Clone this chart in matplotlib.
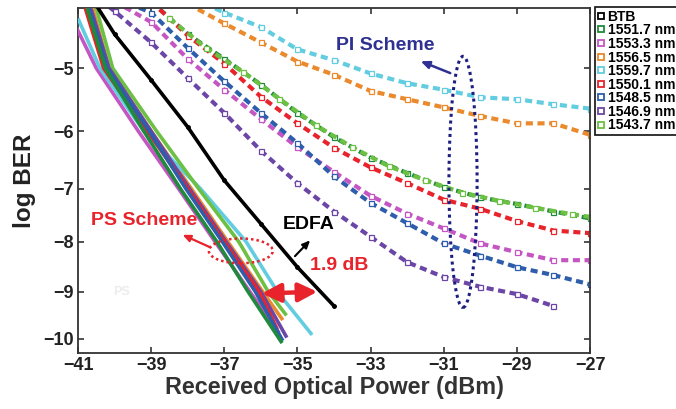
import math
import numpy as np
import matplotlib
matplotlib.use("Agg")
import matplotlib.pyplot as plt
from matplotlib.lines import Line2D
from matplotlib.patches import Ellipse, FancyArrowPatch

plt.rcParams['font.family'] = ['Liberation Sans', 'DejaVu Sans']
plt.rcParams['font.weight'] = 'bold'
plt.rcParams['axes.labelweight'] = 'bold'

# ---- data (x = received power in dBm, y = log10 BER) ----
labels = ['BTB', '1551.7 nm', '1553.3 nm', '1556.5 nm', '1559.7 nm',
          '1550.1 nm', '1548.5 nm', '1546.9 nm', '1543.7 nm']
colors = ['black', '#1f8a3c', '#c456c4', '#ea8a2c', '#62cde0',
          '#e8232b', '#2d5dab', '#6c46a6', '#6cc043']

btb_x = [-40.5, -40.0, -39.0, -38.0, -37.0, -36.0, -35.0, -34.0]
btb_y = [-4.1, -4.5, -5.18, -5.93, -6.85, -7.65, -8.5, -9.3]

# PS scheme (solid), one per wavelength
ps_x = {
    '1551.7 nm': [-40.75, -40.25, -39.2, -38.2, -37.2, -36.35, -35.42],
    '1553.3 nm': [-41.05, -40.5, -39.35, -38.25, -37.25, -36.3, -35.5],
    '1556.5 nm': [-40.6, -40.15, -39.0, -37.9, -36.9, -35.95, -35.4],
    '1559.7 nm': [-41.0, -40.4, -39.2, -37.65, -36.4, -35.55, -34.6],
    '1550.1 nm': [-40.8, -40.3, -39.1, -38.0, -37.0, -36.05, -35.55],
    '1548.5 nm': [-40.7, -40.2, -39.05, -38.05, -37.05, -36.15, -35.4],
    '1546.9 nm': [-40.65, -40.15, -39.0, -37.95, -36.95, -36.0, -35.29],
    '1543.7 nm': [-40.5, -40.05, -38.85, -37.7, -36.6, -35.8, -35.3],
}
ps_y = {
    '1551.7 nm': [-4.14, -5, -6, -7, -8, -9, -10.1],
    '1553.3 nm': [-4.4, -5, -6, -7, -8, -9, -9.88],
    '1556.5 nm': [-4.14, -5, -6, -7, -8, -9, -9.6],
    '1559.7 nm': [-4.28, -5, -6, -7, -8, -9, -9.92],
    '1550.1 nm': [-4.14, -5, -6, -7, -8, -9, -9.8],
    '1548.5 nm': [-4.14, -5, -6, -7, -8, -9, -10.05],
    '1546.9 nm': [-4.14, -5, -6, -7, -8, -9, -9.98],
    '1543.7 nm': [-4.14, -5, -6, -7, -8, -9, -9.5],
}
ps_order = ['1556.5 nm', '1553.3 nm', '1559.7 nm', '1543.7 nm', '1546.9 nm',
            '1550.1 nm', '1548.5 nm', '1551.7 nm']

# PI scheme (dashed with markers)
pi_x = {
    '1551.7 nm': [-39, -38, -37, -36, -35, -34, -33, -32, -31, -30, -29, -28, -27],
    '1553.3 nm': [-40, -39, -38, -37, -36, -35, -34, -33, -32, -31, -30, -29, -28, -27],
    '1556.5 nm': [-38, -37, -36, -35, -34, -33, -32, -31, -30, -29, -28, -27],
    '1559.7 nm': [-38, -37, -36, -35, -34, -33, -32, -31, -30, -29, -28, -27],
    '1550.1 nm': [-39, -38, -37, -36, -35, -34, -33, -32, -31, -30, -29, -28, -27],
    '1548.5 nm': [-40, -39, -38, -37, -36, -35, -34, -33, -32, -31, -30, -29, -28, -27],
    '1546.9 nm': [-41, -40, -39, -38, -37, -36, -35, -34, -33, -32, -31, -30, -29, -28],
    '1543.7 nm': [-38.5, -37.5, -36.5, -35.5, -34.5, -33.5, -32.5, -31.5, -30.5,
                  -29.5, -28.5, -27.5, -27],
}
pi_y = {
    '1551.7 nm': [-4.05, -4.5, -4.86, -5.25, -5.7, -6.1, -6.45, -6.72, -6.97,
                  -7.16, -7.28, -7.42, -7.55],
    '1553.3 nm': [-4.05, -4.33, -4.86, -5.33, -5.8, -6.27, -6.7, -7.13, -7.46,
                  -7.74, -8.03, -8.2, -8.36, -8.36],
    '1556.5 nm': [-4.08, -4.35, -4.62, -4.9, -5.1, -5.35, -5.48, -5.61, -5.75,
                  -5.87, -5.87, -6.06],
    '1559.7 nm': [-3.98, -4.2, -4.4, -4.72, -4.88, -5.08, -5.23, -5.33, -5.45,
                  -5.48, -5.56, -5.63],
    '1550.1 nm': [-4.05, -4.52, -4.93, -5.44, -5.87, -6.28, -6.62, -6.9, -7.2,
                  -7.37, -7.6, -7.78, -7.83],
    '1548.5 nm': [-4.0, -4.2, -4.7, -5.2, -5.7, -6.2, -6.78, -7.26, -7.64,
                  -8.03, -8.27, -8.5, -8.66, -8.85],
    '1546.9 nm': [-3.8, -4.18, -4.62, -5.15, -5.7, -6.33, -6.9, -7.42, -7.9,
                  -8.4, -8.7, -8.9, -9.05, -9.3],
    '1543.7 nm': [-4.28, -4.7, -5.05, -5.47, -5.9, -6.27, -6.6, -6.85, -7.07,
                  -7.22, -7.35, -7.47, -7.52],
}

x_ticks = [-41, -39, -37, -35, -33, -31, -29, -27]
y_ticks = [-10, -9, -8, -7, -6, -5]


# ---- Q-factor style axis: linear in Q, labelled in log BER ----
_erfc = np.vectorize(math.erfc, otypes=[float])


def ber_of_q(q):
    return 0.5 * _erfc(q / np.sqrt(2))


def to_q(v):
    v = np.asarray(v, float)
    nan = np.isnan(v)
    vc = np.clip(np.where(nan, -5.0, v), -290, -1e-9)
    lo = np.full(vc.shape, -8.0)
    hi = np.full(vc.shape, 36.0)
    for _ in range(50):
        mid = 0.5 * (lo + hi)
        with np.errstate(divide='ignore'):
            above = np.log10(ber_of_q(mid)) > vc
        lo = np.where(above, mid, lo)
        hi = np.where(above, hi, mid)
    return np.where(nan, np.nan, -0.5 * (lo + hi))


def from_q(y):
    q = -np.asarray(y, float)
    with np.errstate(divide='ignore'):
        return np.log10(ber_of_q(q))


W, H = 676, 409
fig = plt.figure(figsize=(W / 100, H / 100), dpi=100)
ax = fig.add_axes([78 / W, 1 - 353 / H, 512 / W, 345 / H])
ax.set_yscale('function', functions=(to_q, from_q))

cmap = dict(zip(labels, colors))

ax.plot(btb_x, btb_y, color='black', lw=2.6, marker='o', ms=2.5, zorder=4)

for lab in ps_order:
    ax.plot(ps_x[lab], ps_y[lab], color=cmap[lab], lw=2.6,
            solid_capstyle='butt', zorder=3)

for lab in labels[1:]:
    c = cmap[lab]
    ax.plot(pi_x[lab], pi_y[lab], color=c, lw=3.0, dashes=(1.7, 1.1),
            marker='s', ms=3.6, mfc='white', mec=c, mew=0.9, zorder=2)

ax.set_xlim(-41, -27)
ax.set_ylim(-10.32, -4.137)
ax.set_xticks(x_ticks)
ax.set_xticklabels([f'\u2212{abs(t)}' for t in x_ticks])
ax.set_yticks(y_ticks)
ax.set_yticklabels([f'\u2212{abs(t)}' for t in y_ticks])
ax.minorticks_off()
ax.tick_params(direction='in', top=True, right=True, length=4, width=1.1,
               labelsize=13, colors='#222222', pad=3)
for s in ax.spines.values():
    s.set_linewidth(1.3)
    s.set_color('#333333')

ax.set_xlabel('Received Optical Power (dBm)', fontsize=16.8, color='#333333',
              labelpad=1)
ax.set_ylabel('log BER', fontsize=17.5, color='#222222', labelpad=5)

# ---- annotations ----
ax.text(-32.6, -4.66, 'PI Scheme', color='#2e3192', fontsize=14,
        ha='center', va='center')
ax.annotate('', xy=(-31.7, -4.88), xytext=(-30.75, -5.09),
            arrowprops=dict(arrowstyle='-|>,head_length=0.5,head_width=0.22',
                            color='#2e3192', lw=1.8))
ax.add_patch(Ellipse((0.752, 0.496), 0.055, 0.728, transform=ax.transAxes,
                     fill=False, ls=(0, (1, 1.2)), lw=2.2, ec='#1c1f80', zorder=5))

ax.text(-39.2, -7.59, 'PS Scheme', color='#e8232b', fontsize=14,
        ha='center', va='center')
ax.annotate('', xy=(-38.21, -7.84), xytext=(-37.31, -8.13),
            arrowprops=dict(arrowstyle='-|>,head_length=0.45,head_width=0.2',
                            color='#e8232b', lw=1.6))
ax.add_patch(Ellipse((0.318, 0.296), 0.125, 0.072, transform=ax.transAxes,
                     fill=False, ls=(0, (1, 1.2)), lw=1.8, ec='#e8232b', zorder=5))

ax.text(-34.68, -7.67, 'EDFA', color='black', fontsize=14,
        ha='center', va='center')
ax.annotate('', xy=(-34.6, -7.93), xytext=(-35.12, -8.32),
            arrowprops=dict(arrowstyle='-|>,head_length=0.45,head_width=0.2',
                            color='black', lw=1.5))

ax.text(-33.86, -8.46, '1.9 dB', color='#e8232b', fontsize=14,
        ha='center', va='center')
ax.add_patch(FancyArrowPatch((-36.05, -9.04), (-34.38, -9.0),
                             arrowstyle='<|-|>,head_length=0.8,head_width=0.4',
                             color='#e8232b', lw=3.2, mutation_scale=14, zorder=6))

ax.text(-39.8, -9.0, 'PS', color='#ececec', fontsize=9, ha='center', va='center')

# ---- legend ----
handles = [Line2D([], [], ls='none', marker='s', ms=4, mfc='white', mec=c, mew=1.3)
           for c in colors]
fig.legend(handles, labels, loc='upper left', bbox_to_anchor=(595 / W, 1 - 7 / H),
           frameon=True, fancybox=False, edgecolor='#222222', framealpha=1,
           borderpad=0.2, labelspacing=-0.03, handlelength=0.5, handletextpad=0.2,
           borderaxespad=0, prop={'size': 10, 'weight': 'bold'})
fig.legends[0].get_frame().set_linewidth(1.3)

fig.savefig('out.png', dpi=100)
